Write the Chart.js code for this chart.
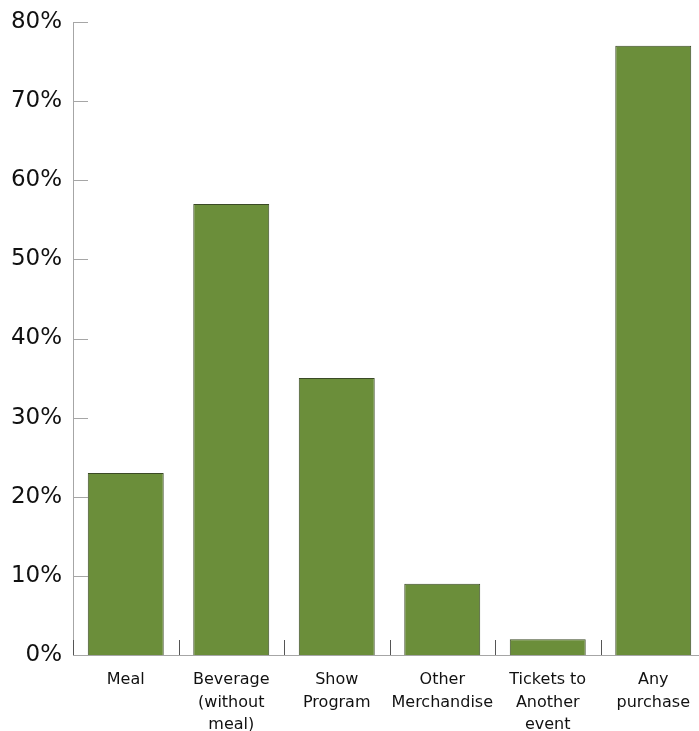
<!DOCTYPE html>
<html>
<head>
<meta charset="utf-8">
<script src="https://cdn.jsdelivr.net/npm/chart.js@4.4.1/dist/chart.umd.min.js"></script>
<style>
  html, body { margin: 0; padding: 0; background: #fff; overflow: hidden; }
  #wrap { width: 699px; height: 731px; overflow: hidden; }
</style>
</head>
<body>
<div id="wrap"><canvas id="purchaseChart" width="706" height="731"></canvas></div>
<script>
// categories (multi-line labels)
const categories = [
  ["Meal"],
  ["Beverage", "(without", "meal)"],
  ["Show", "Program"],
  ["Other", "Merchandise"],
  ["Tickets to", "Another", "event"],
  ["Any", "purchase"]
];
// share of respondents, %
const shares = [23, 57, 35, 9, 2, 77];
const yTicks = [0, 10, 20, 30, 40, 50, 60, 70, 80];

const AXIS = "#a6a6a6";

// inward tick marks, drawn with the chart's own scales
const tickMarks = {
  id: "tickMarks",
  afterDraw(chart) {
    const { ctx, scales: { x, y }, chartArea: a } = chart;
    ctx.save();
    ctx.strokeStyle = AXIS;
    ctx.lineWidth = 1;
    ctx.beginPath();
    yTicks.forEach(v => {
      const py = Math.round(y.getPixelForValue(v)) + 0.5;
      ctx.moveTo(a.left, py);
      ctx.lineTo(a.left + 15, py);
    });
    ctx.stroke();
    ctx.strokeStyle = "#555";
    ctx.beginPath();
    for (let i = 0; i < categories.length; i++) {
      const px = Math.round(x.getPixelForValue(i) - x.width / categories.length / 2) + 0.5;
      ctx.moveTo(px, a.bottom);
      ctx.lineTo(px, a.bottom - 15);
    }
    ctx.stroke();
    ctx.restore();
  }
};

new Chart(document.getElementById("purchaseChart"), {
  type: "bar",
  data: {
    labels: categories,
    datasets: [{
      data: shares,
      backgroundColor: "#6b8e3a",
      borderColor: "#3b4a26",
      borderWidth: 1,
      borderSkipped: "bottom",
      categoryPercentage: 1,
      barPercentage: 0.72
    }]
  },
  options: {
    responsive: false,
    animation: false,
    layout: { padding: { top: 22, right: 0, left: 0, bottom: 0 } },
    plugins: { legend: { display: false }, tooltip: { enabled: false } },
    scales: {
      y: {
        min: 0, max: 80,
        afterFit: s => { s.width = 73; },
        afterBuildTicks: s => { s.ticks = yTicks.map(v => ({ value: v })); },
        border: { display: true, color: AXIS, width: 1 },
        grid: { display: false },
        ticks: {
          padding: 3,
          color: "#111",
          font: { family: "DejaVu Sans", size: 23 },
          callback: v => v + "%"
        }
      },
      x: {
        afterFit: s => { s.height = 76; },
        border: { display: true, color: AXIS, width: 1 },
        grid: { display: false },
        ticks: {
          padding: 6,
          color: "#111",
          maxRotation: 0,
          autoSkip: false,
          font: { family: "DejaVu Sans", size: 16, lineHeight: 1.4 }
        }
      }
    }
  },
  plugins: [tickMarks]
});
</script>
</body>
</html>
